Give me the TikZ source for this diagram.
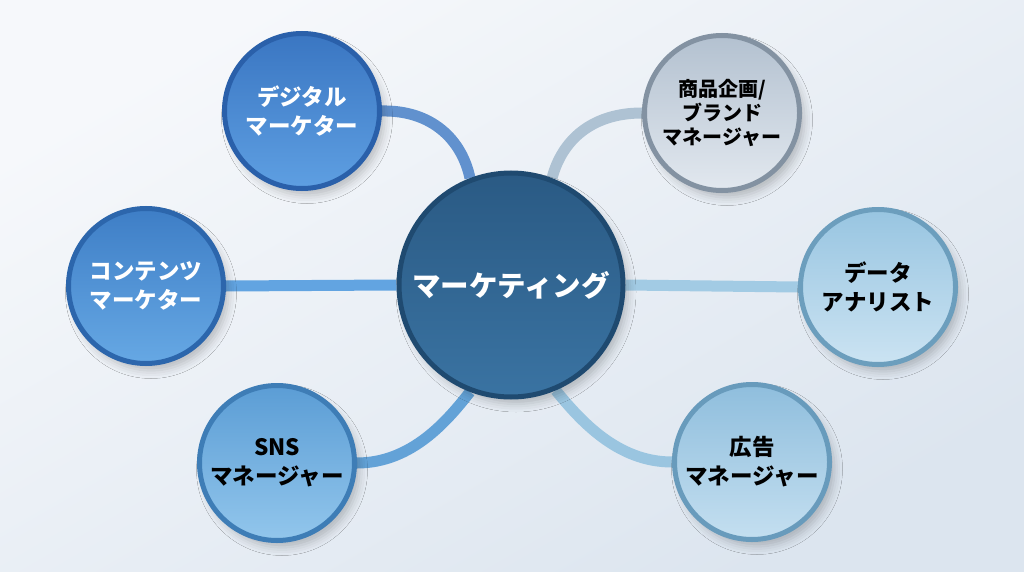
\documentclass[tikz,border=0pt]{standalone}
\usepackage{fontspec}
\setmainfont{Noto Sans CJK JP}
\usetikzlibrary{shadows.blur,backgrounds}
\definecolor{bgA}{HTML}{F6F8FB}
\definecolor{bgB}{HTML}{DCE5EF}
\definecolor{hubA}{HTML}{2A5A84}
\definecolor{hubB}{HTML}{3A73A2}
\definecolor{hubR}{HTML}{1F4A70}
\definecolor{digA}{HTML}{3A76C2}
\definecolor{digB}{HTML}{5E9FE2}
\definecolor{digR}{HTML}{2A60AA}
\definecolor{conA}{HTML}{3E7EC6}
\definecolor{conB}{HTML}{66A8E4}
\definecolor{conR}{HTML}{2C66AC}
\definecolor{snsA}{HTML}{5B9DD5}
\definecolor{snsB}{HTML}{92C6EC}
\definecolor{snsR}{HTML}{3E7DB6}
\definecolor{proA}{HTML}{B3C1D0}
\definecolor{proB}{HTML}{E2E8EF}
\definecolor{proR}{HTML}{8392A2}
\definecolor{datA}{HTML}{98C5E1}
\definecolor{datB}{HTML}{CBE3F2}
\definecolor{datR}{HTML}{6C9EBD}
\definecolor{adA}{HTML}{8FBEDD}
\definecolor{adB}{HTML}{C4DFF0}
\definecolor{adR}{HTML}{689BBC}

\begin{document}
\begin{tikzpicture}[x=1pt, y=-1pt, font=\bfseries,
	   ball/.style={circle, inner sep=0pt, align=center, line width=5pt,
	     minimum size=155pt, font=\fontsize{22.5}{29}\selectfont\bfseries,
	     blur shadow={shadow xshift=5pt, shadow yshift=-7pt, shadow blur radius=8pt, shadow opacity=22}},
	   link/.style={line width=11pt}]
	  \useasboundingbox (0,0) rectangle (1024,572);
	  % centre
	  \node[ball, minimum size=224pt, top color=hubA, bottom color=hubB, draw=hubR, text=white,
	     font=\fontsize{28.5}{34}\selectfont\bfseries] (mk) at (511,285) {マーケティング};
	  % satellites
	  \node[ball, top color=digA, bottom color=digB, draw=digR, text=white] (dig) at (302,111) {デジタル\\マーケター};
	  \node[ball, top color=conA, bottom color=conB, draw=conR, text=white] (con) at (146,286) {コンテンツ\\マーケター};
	  \node[ball, top color=snsA, bottom color=snsB, draw=snsR, text=black] (sns) at (277,463) {SNS\\マネージャー};
	  \node[ball, top color=proA, bottom color=proB, draw=proR, text=black,
	     font=\fontsize{20}{24}\selectfont\bfseries] (pro) at (722,113) {商品企画/\\ブランド\\マネージャー};
	  \node[ball, top color=datA, bottom color=datB, draw=datR, text=black] (dat) at (878,287) {データ\\アナリスト};
	  \node[ball, top color=adA, bottom color=adB, draw=adR, text=black] (ad) at (752,462) {広告\\マネージャー};
	  % backdrop and links behind the circles
	  \begin{scope}[on background layer]
	    \fill[top color=bgA, bottom color=bgB, shading angle=30] (0,0) rectangle (1024,572);
	    \draw[link, color=digA!80!white] (dig.east) .. controls (432,110) and (462,140) .. (mk.111);
	    \draw[link, color=proA!80!datA] (pro.west) .. controls (592,113) and (562,140) .. (mk.69);
	    \draw[link, color=conB!90!conA] (con.east) -- (mk.west);
	    \draw[link, color=datA!90!white] (mk.east) -- (dat.west);
	    \draw[link, color=snsA!95!white] (sns.east) .. controls (412,463) and (448,420) .. (mk.-111);
	    \draw[link, color=adA!90!white] (ad.west) .. controls (617,462) and (580,420) .. (mk.-67);
	  \end{scope}
	\end{tikzpicture}
\end{document}
